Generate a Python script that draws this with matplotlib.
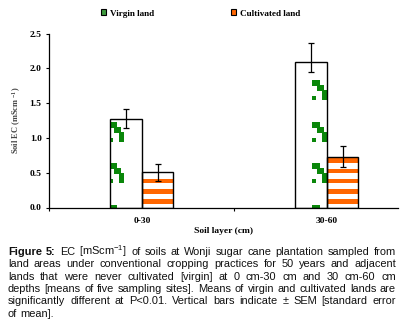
import matplotlib
matplotlib.use("Agg")
import matplotlib.pyplot as plt
import matplotlib.transforms as mtransforms
from matplotlib.patches import Rectangle, Patch
from matplotlib.collections import PatchCollection
import numpy as np

# ---------------- data ----------------
categories = ["0-30", "30-60"]
series_names = ["Virgin land", "Cultivated land"]
virgin = [1.27, 2.09]
virgin_err_low = [0.13, 0.14]
virgin_err_high = [0.14, 0.27]
cultivated = [0.51, 0.72]
cultivated_err_low = [0.13, 0.14]
cultivated_err_high = [0.12, 0.16]
yticks = [0.0, 0.5, 1.0, 1.5, 2.0, 2.5]
caption_lines = [
    "Figure 5: EC [mScm$^{-1}$] of soils at Wonji sugar cane plantation sampled from",
    "land areas under conventional cropping practices for 50 years and adjacent",
    "lands that were never cultivated [virgin] at 0 cm-30 cm and 30 cm-60 cm",
    "depths [means of five sampling sites]. Means of virgin and cultivated lands are",
    "significantly different at P<0.01. Vertical bars indicate \u00b1 SEM [standard error",
    "of mean].",
]

# ---------------- style ----------------
plt.rcParams["mathtext.fontset"] = "custom"
plt.rcParams["mathtext.rm"] = "Liberation Sans"
plt.rcParams["mathtext.it"] = "Liberation Sans"
plt.rcParams["mathtext.default"] = "regular"

W, H = 403, 329
DPI = 100
GREEN = "#0a870a"
ORANGE = "#ff6600"
serif = "Liberation Serif"

fig = plt.figure(figsize=(W / DPI, H / DPI), dpi=DPI)
ax_left, ax_right, ax_top, ax_bottom = 49.3, 398.3, 33.7, 207.5
ax = fig.add_axes([ax_left / W, 1 - ax_bottom / H,
                   (ax_right - ax_left) / W, (ax_bottom - ax_top) / H])

x = np.arange(len(categories))
bw = 0.17

# axes ticks first (set_xticks can widen the limits), limits afterwards
ax.set_yticks(yticks)
ax.set_yticklabels([f"{v:.1f}" for v in yticks], fontfamily=serif,
                   fontweight="bold", fontsize=6.8)
ax.set_xticks(x)
ax.set_xticklabels(categories, fontfamily=serif, fontweight="bold", fontsize=6.8)
ax.set_xticks([-0.5, 0.5, 1.5], minor=True)
ax.set_xlim(-0.5, 1.386)
ax.set_ylim(0, 2.5)
ax.set_autoscale_on(False)

vb = ax.bar(x - bw / 2, virgin, bw, color="white", edgecolor="none", zorder=1)
cb = ax.bar(x + bw / 2, cultivated, bw, color="white", edgecolor="none", zorder=1)

# pixel-space transform (origin top-left)
pix = mtransforms.Affine2D().scale(1, -1).translate(0, H)

# green staircase texture for virgin bars
stair = [(0, 0, 8, 6), (5, 5, 7, 6), (10, 10, 5, 10), (0, 16, 4, 4)]
for bar in vb:
    rects = []
    for x0 in np.arange(109 - 202.5 * 2, W + 10, 202.5):
        for y0 in np.arange(80.3 - 41.5 * 2, H + 10, 41.5):
            for dx, dy, w, h in stair:
                rects.append(Rectangle((x0 + dx, y0 + dy + h), w, -h))
    pc = PatchCollection(rects, facecolor=GREEN, edgecolor="none",
                         transform=pix, zorder=2)
    ax.add_collection(pc, autolim=False)
    pc.set_clip_path(bar)

# orange stripe texture for cultivated bars
for bar in cb:
    rects = []
    for y0 in np.arange(158.3 - 10.2 * 20, H + 10, 10.2):
        rects.append(Rectangle((0, y0 + 4.6), W, -4.6))
    pc = PatchCollection(rects, facecolor=ORANGE, edgecolor="none",
                         transform=pix, zorder=2)
    ax.add_collection(pc, autolim=False)
    pc.set_clip_path(bar)

# bar outlines
ax.bar(x - bw / 2, virgin, bw, fill=False, edgecolor="black", linewidth=1.0, zorder=3)
ax.bar(x + bw / 2, cultivated, bw, fill=False, edgecolor="black", linewidth=1.0, zorder=3)

# error bars
ax.errorbar(x - bw / 2, virgin, yerr=[virgin_err_low, virgin_err_high], fmt="none",
            ecolor="black", elinewidth=0.9, capsize=2.3, capthick=0.9, zorder=4)
ax.errorbar(x + bw / 2, cultivated, yerr=[cultivated_err_low, cultivated_err_high],
            fmt="none", ecolor="black", elinewidth=0.9, capsize=2.3, capthick=0.9, zorder=4)

# axes styling
for s in ["top", "right"]:
    ax.spines[s].set_visible(False)
for s in ["left", "bottom"]:
    ax.spines[s].set_linewidth(0.9)
ax.tick_params(axis="y", direction="out", length=2.5, width=0.8, pad=3)
ax.tick_params(axis="x", which="major", length=0, pad=6.5)
ax.tick_params(axis="x", which="minor", direction="out", length=2.5, width=0.8)

ax.set_xlabel("Soil layer (cm)", fontfamily=serif, fontweight="bold", fontsize=6.8,
              labelpad=1.5)
ax.set_ylabel("Soil EC (mScm $^{-1}$)", fontfamily=serif, fontweight="bold",
              fontsize=6.0, color="#444444", labelpad=4.5)

# legend
handles = [Patch(facecolor="#3d9a3d", edgecolor="black", linewidth=0.8),
           Patch(facecolor=ORANGE, edgecolor="black", linewidth=0.8)]
fig.legend(handles, series_names, loc="center left",
           bbox_to_anchor=(101.2 / W, 1 - 13.5 / H), ncol=2, frameon=False,
           prop={"family": serif, "weight": "bold", "size": 6.6},
           handlelength=0.55, handleheight=0.55, handletextpad=0.4,
           columnspacing=8.4, borderpad=0, borderaxespad=0)

# caption (justified)
renderer = fig.canvas.get_renderer()
cap_left, cap_right = 8.0, 396.0
baselines = [254.8, 267.2, 279.6, 292.0, 304.4, 316.8]
for i, line in enumerate(caption_lines):
    words = line.split(" ")
    texts = []
    for j, wd in enumerate(words):
        bold = (i == 0 and j < 2)
        t = fig.text(0, baselines[i], wd, transform=pix, fontsize=7.9,
                     fontfamily="Liberation Sans",
                     fontweight="bold" if bold else "normal",
                     va="baseline", ha="left", color="#111111")
        texts.append(t)
    widths = [t.get_window_extent(renderer).width for t in texts]
    if i < len(caption_lines) - 1:
        gap = (cap_right - cap_left - sum(widths)) / (len(words) - 1)
    else:
        gap = 2.9
    xp = cap_left
    for t, wd in zip(texts, widths):
        t.set_x(xp)
        xp += wd + gap

fig.savefig("out.png", dpi=DPI)
